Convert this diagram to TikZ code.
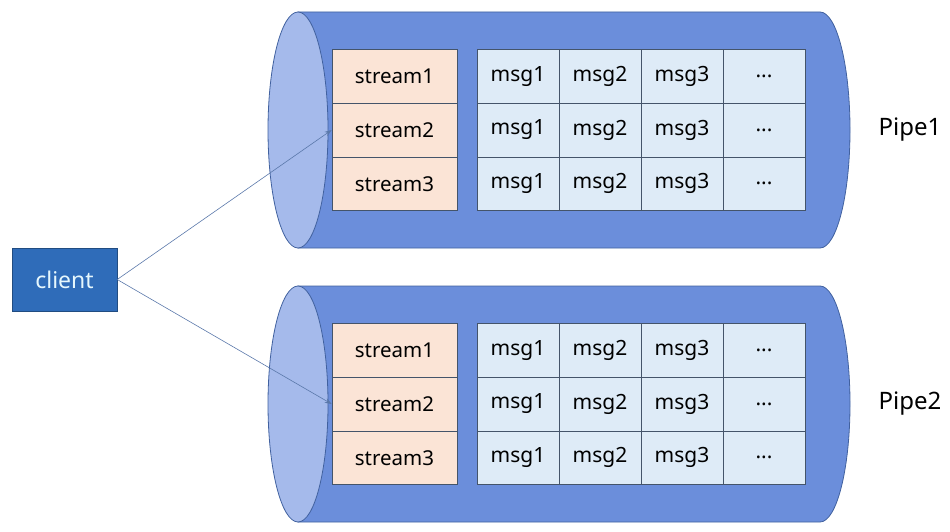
\documentclass[tikz,border=0pt]{standalone}
\usepackage{fontspec}
\setmainfont{Noto Sans}
\usepackage{xcolor}
\usetikzlibrary{arrows.meta}

\definecolor{pipeblue}{HTML}{6B8EDB}
\definecolor{pipeline}{HTML}{41619F}
\definecolor{pipelight}{HTML}{A5BAEB}
\definecolor{streamfill}{HTML}{FBE4D6}
\definecolor{msgfill}{HTML}{DEEBF7}
\definecolor{cellline}{HTML}{44546A}
\definecolor{clientblue}{HTML}{2F6CB9}
\definecolor{arrowblue}{HTML}{5A78AA}

\tikzset{
  pipebody/.style={fill=pipeblue,draw=pipeline,line width=0.8pt},
  pipeend/.style={fill=pipelight,draw=pipeline,line width=0.8pt},
  cell/.style={draw=cellline,line width=0.6pt,inner sep=0pt,minimum height=53.7pt,font=\fontsize{20.5}{24}\selectfont},
  streamcell/.style={cell,fill=streamfill,minimum width=125pt},
  msgcell/.style={cell,fill=msgfill,minimum width=82pt,font=\fontsize{21}{24}\selectfont},
  clientbox/.style={fill=clientblue,draw=clientblue!70!black,minimum width=105pt,minimum height=63pt,inner sep=0pt,text=white!90!cyan,font=\fontsize{23}{26}\selectfont},
  feed/.style={draw=arrowblue,line width=0.6pt,-{Stealth[length=7pt,width=5pt]}}
}

\begin{document}
\begin{tikzpicture}[x=1pt,y=1pt]
\useasboundingbox (0,0) rectangle (950,531);
% two pipes, each a lying cylinder with three streams
\foreach \p/\cy in {1/401,2/127}{
  \draw[pipebody] (298,{\cy+118}) -- (820,{\cy+118}) arc[start angle=90,end angle=-90,x radius=30,y radius=118] -- (298,{\cy-118}) -- cycle;
  \draw[pipeend] (298,\cy) ellipse [x radius=30,y radius=118];
  \foreach \s/\dy in {1/53.7,2/0,3/-53.7}{
    \node[streamcell] (p\p s\s) at (394.5,{\cy+\dy}) {stream\s};
    \node[msgcell] at (518,{\cy+\dy}) {msg1};
    \node[msgcell] at (600,{\cy+\dy}) {msg2};
    \node[msgcell] at (682,{\cy+\dy}) {msg3};
    \node[msgcell] at (764,{\cy+\dy}) {...};
  }
  \node[font=\fontsize{24}{28}\selectfont] (pipe\p) at (910,\cy) {Pipe\p};
}
\node[clientbox] (client) at (64.5,251.5) {client};
\draw[feed] (client.east) -- (p1s2.west);
\draw[feed] (client.east) -- (p2s2.west);
\end{tikzpicture}
\end{document}
